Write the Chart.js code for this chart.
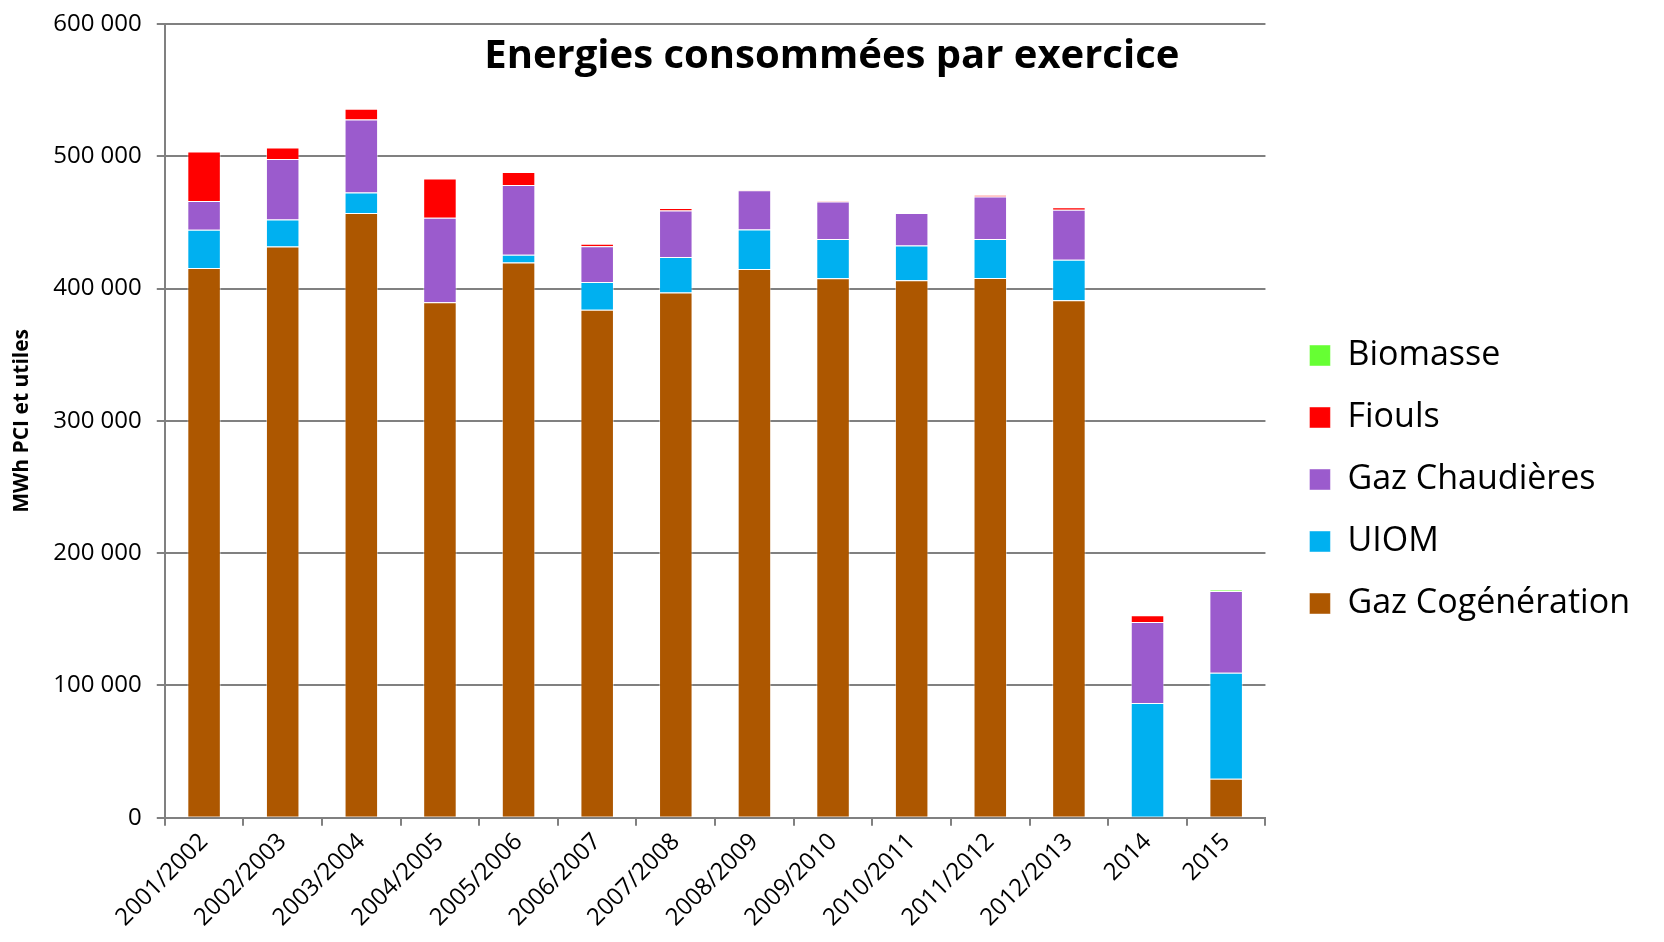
<!DOCTYPE html>
<html>
<head>
<meta charset="utf-8">
<title>Energies consommées par exercice</title>
<script src="https://cdn.jsdelivr.net/npm/chart.js@4.4.1/dist/chart.umd.min.js"></script>
<style>
    html, body { margin: 0; padding: 0; background: #fff; }
    #wrap { width: 1664px; height: 942px; position: relative; }
</style>
</head>
<body>
<div id="wrap"><canvas id="energies"></canvas></div>
<script>
const chartTitle = 'Energies consommées par exercice';
const yTitle = 'MWh PCI et utiles';

const exercices = ['2001/2002', '2002/2003', '2003/2004', '2004/2005', '2005/2006', '2006/2007', '2007/2008',
    '2008/2009', '2009/2010', '2010/2011', '2011/2012', '2012/2013', '2014', '2015'];

// MWh
const gazCogeneration = [415500, 431800, 457100, 389700, 419700, 384100, 397000, 414900, 407900, 406400, 408100, 391200, 0, 29500];
const uiom            = [29000, 20500, 15600, 0, 5800, 20800, 26800, 29800, 29500, 26200, 29300, 30600, 86700, 80100];
const gazChaudieres   = [21700, 45700, 55100, 63900, 52800, 27200, 35300, 29600, 28500, 24500, 32300, 37800, 61300, 61900];
const fiouls          = [37400, 8600, 8100, 29700, 9900, 1800, 1800, 500, 400, 200, 800, 1800, 5000, 0];
const biomasse        = [0, 0, 0, 0, 0, 0, 0, 0, 0, 0, 0, 0, 0, 600];

const yTicks = [0, 100000, 200000, 300000, 400000, 500000, 600000];

function formatMilliers(v) {
    return String(v).replace(/\B(?=(\d{3})+(?!\d))/g, ' ');
}

// title sits inside the plot, like the original
const insideTitle = {
    id: 'insideTitle',
    afterDraw(chart) {
        const ctx = chart.ctx;
        const area = chart.chartArea;
        ctx.save();
        ctx.font = 'bold 40px "Open Sans"';
        ctx.fillStyle = '#000';
        ctx.textAlign = 'center';
        ctx.textBaseline = 'middle';
        ctx.fillText(chartTitle, area.left + area.width * 0.606, area.top + 33);
        ctx.restore();
    }
};

// push the legend a bit further from the plot than its padding does
const legendGap = {
    id: 'legendGap',
    afterLayout(chart) {
        const lg = chart.legend;
        lg.left += 16;
        lg.right += 16;
        lg.top += 11;
        lg.bottom += 11;
    }
};

Chart.defaults.font.family = '"Open Sans", sans-serif';
Chart.defaults.color = '#000';

const grey = '#808080';
const edge = 'rgba(255,255,255,0.45)';

let ctx = document.getElementById('energies').getContext('2d');
let energies = new Chart(ctx, {
    type: 'bar',
    data: {
        labels: exercices,
        datasets: [
            { label: 'Gaz Cogénération', data: gazCogeneration, backgroundColor: '#AD5700' },
            { label: 'UIOM', data: uiom, backgroundColor: '#00B0F0' },
            { label: 'Gaz Chaudières', data: gazChaudieres, backgroundColor: '#9B5BCD' },
            { label: 'Fiouls', data: fiouls, backgroundColor: '#FF0000' },
            { label: 'Biomasse', data: biomasse, backgroundColor: '#66FF33' }
        ].map(ds => Object.assign(ds, {
            borderColor: edge,
            borderWidth: 1,
            categoryPercentage: 0.82,
            barPercentage: 0.52
        }))
    },
    options: {
        responsive: true,
        maintainAspectRatio: false,
        animation: false,
        layout: {
            padding: { left: 5, top: 3, right: 40, bottom: 8 }
        },
        plugins: {
            legend: {
                position: 'right',
                reverse: true,
                labels: {
                    boxWidth: 21,
                    boxHeight: 21,
                    padding: 28,
                    color: '#000',
                    font: { size: 34 }
                }
            },
            tooltip: { enabled: false }
        },
        scales: {
            x: {
                stacked: true,
                grid: {
                    drawOnChartArea: false,
                    drawTicks: true,
                    tickLength: 8,
                    color: grey,
                    lineWidth: 2,
                    offset: true
                },
                border: { color: grey, width: 2 },
                ticks: {
                    minRotation: 45,
                    maxRotation: 45,
                    padding: 2,
                    color: '#000',
                    font: { size: 24 }
                }
            },
            y: {
                stacked: true,
                min: 0,
                max: 600000,
                afterBuildTicks(axis) {
                    axis.ticks = yTicks.map(v => ({ value: v }));
                },
                grid: {
                    color: grey,
                    lineWidth: 2,
                    tickLength: 8
                },
                border: { color: grey, width: 2 },
                ticks: {
                    padding: 15,
                    color: '#000',
                    font: { size: 24, lineHeight: 0.75 },
                    callback: v => formatMilliers(v)
                },
                title: {
                    display: true,
                    text: yTitle,
                    color: '#000',
                    font: { size: 21, weight: 'bold' },
                    padding: { top: 4, bottom: 4 }
                }
            }
        }
    },
    plugins: [insideTitle, legendGap]
});
</script>
</body>
</html>
